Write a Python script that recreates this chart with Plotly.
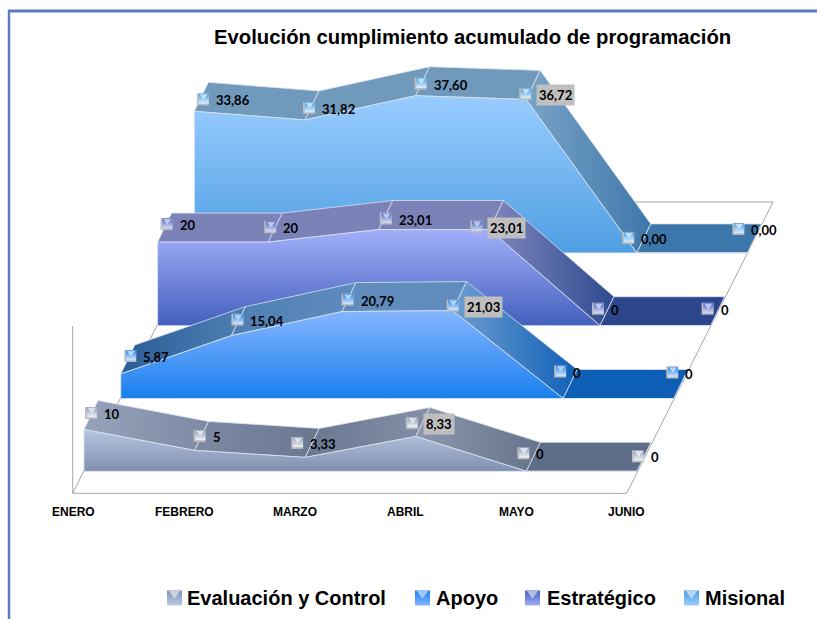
import plotly.graph_objects as go

# ---- data ----
months = ["ENERO", "FEBRERO", "MARZO", "ABRIL", "MAYO", "JUNIO"]
series_names = ["Misional", "Estratégico", "Apoyo", "Evaluación y Control"]
misional = [33.86, 31.82, 37.60, 36.72, 0.00, 0.00]
estrategico = [20, 20, 23.01, 23.01, 0, 0]
apoyo = [5.87, 15.04, 20.79, 21.03, 0, 0]
evaluacion = [10, 5, 3.33, 8.33, 0, 0]
misional_labels = ["33,86", "31,82", "37,60", "36,72", "0,00", "0,00"]
estrategico_labels = ["20", "20", "23,01", "23,01", "0", "0"]
apoyo_labels = ["5,87", "15,04", "20,79", "21,03", "0", "0"]
evaluacion_labels = ["10", "5", "3,33", "8,33", "0", "0"]
highlighted_month = 3
title_text = "Evolución cumplimiento acumulado de programación"
legend_order = ["Evaluación y Control", "Apoyo", "Estratégico", "Misional"]

# ---- oblique projection of the 3D chart onto the page ----
X0, Y0 = 84.0, 471.3        # first series, first month, value 0
DX = 110.6                  # per month
SY = 4.18                   # per value unit
SER_DX, SER_DY = 36.8, -72.8  # per series step in depth
RIB_DX, RIB_DY = 14.0, -29.0  # ribbon thickness
FLOOR = dict(fl=(72.7, 493.3), fr=(626.7, 493.3), br=(773, 202), bl=(219, 202))


def proj(month, value, depth, back=0.0):
    return (X0 + DX * month + SER_DX * depth + RIB_DX * back,
            Y0 - SY * value + SER_DY * depth + RIB_DY * back)


styles = {
    "Misional": dict(values=misional, labels=misional_labels, depth=3,
                     face=("#99CCFF", "#4F9FE3"), face_span=(96, 253),
                     ribbon=[("#7099BC", "#7099BC"), ("#7099BC", "#7099BC"), ("#7099BC", "#7099BC"),
                             ("#7AA3C6", "#3E78AB"), ("#3B77AA", "#3B77AA")],
                     icon=("#DDF0FF", "#3F9BE0"),
                     off=[(8.5, -12), (4, -12), (5, -12), (-1, -5.5), (-8.5, -15), (-9, -24)]),
    "Estratégico": dict(values=estrategico, labels=estrategico_labels, depth=2,
                        face=("#A2B0FA", "#4460BE"), face_span=(229, 325),
                        ribbon=[("#7B82B8", "#7B82B8"), ("#7B82B8", "#7B82B8"), ("#7B82B8", "#7B82B8"),
                                ("#8087BC", "#2E4A90"), ("#2C468C", "#2C468C")],
                        icon=("#D6DDFA", "#4460BE"),
                        off=[(9, -18), (2, -15), (7, -11), (-13, -3), (-2, -17), (-3, -17)]),
    "Apoyo": dict(values=apoyo, labels=apoyo_labels, depth=1,
                  face=("#86B6FF", "#1A80EE"), face_span=(310, 398),
                  ribbon=[("#2B5D98", "#4F7FB3"), ("#4F7FB3", "#5F8BBD"), ("#5F8BBD", "#5F8BBD"),
                          ("#6E9ED0", "#1060B8"), ("#0D5FB5", "#0D5FB5")],
                  icon=("#D5E8FF", "#1F80E8"),
                  off=[(9.5, -18), (6, -16), (5.5, -12), (0, -5), (-3, -27), (-1.5, -26)]),
    "Evaluación y Control": dict(values=evaluacion, labels=evaluacion_labels, depth=0,
                                 face=("#BCCBE6", "#8090B0"), face_span=(425, 471),
                                 ribbon=[("#97A3BB", "#7E8AA3"), ("#7E8AA3", "#6A7790"), ("#6A7790", "#858FA8"),
                                         ("#8D97AE", "#66738C"), ("#5E6D87", "#5E6D87")],
                                 icon=("#F0F3F8", "#8B9BB8"),
                                 off=[(7, -16.5), (5, -14.5), (-8, -14.5), (-4, -13.5), (-3, -18), (1, -15)]),
}

EDGE = "#D9E3F0"
GRID = "#A6A6A6"
fig = go.Figure()
annotations = []


def line(pts, color=GRID, width=1):
    fig.add_trace(go.Scatter(x=[p[0] for p in pts], y=[p[1] for p in pts], mode="lines",
                             line=dict(color=color, width=width), hoverinfo="skip", showlegend=False))


def icon(x, y, colors, size):
    fig.add_trace(go.Scatter(x=[x], y=[y], mode="markers", hoverinfo="skip", showlegend=False,
                             marker=dict(symbol="square", size=size, color="#BDBDBD", line=dict(width=0))))
    fig.add_trace(go.Scatter(x=[x + 0.7], y=[y - 0.7], mode="markers", hoverinfo="skip", showlegend=False,
                             marker=dict(symbol="square", size=size - 2, line=dict(width=0), color=colors[1],
                                         gradient=dict(type="vertical", color=colors[0]))))
    fig.add_trace(go.Scatter(x=[x + 0.7], y=[y - size * 0.28], mode="markers", hoverinfo="skip", showlegend=False,
                             marker=dict(symbol="triangle-down", size=size * 0.62, color=colors[0], opacity=0.75,
                                         line=dict(width=0))))


# floor and wall frame
f = FLOOR
line([(f["fl"][0], 326), f["fl"], f["fr"], f["br"], f["bl"], f["fl"]])

# series, back to front
for name in series_names:
    s = styles[name]
    vals, d = s["values"], s["depth"]
    n = len(vals)
    for i in range(n - 1):
        pts = [proj(i, vals[i], d), proj(i + 1, vals[i + 1], d),
               proj(i + 1, vals[i + 1], d, 1), proj(i, vals[i], d, 1), proj(i, vals[i], d)]
        xs, ys = zip(*pts)
        c0, c1 = s["ribbon"][i]
        fig.add_trace(go.Scatter(
            x=xs, y=ys, mode="lines", fill="toself", line=dict(color=EDGE, width=0.8),
            fillgradient=dict(type="horizontal", colorscale=[[0, c0], [1, c1]],
                              start=min(xs), stop=max(xs)),
            hoverinfo="skip", showlegend=False))
    front = [proj(i, vals[i], d) for i in range(n)]
    base = [proj(n - 1, 0, d), proj(0, 0, d)]
    poly = front + base + [front[0]]
    xs, ys = zip(*poly)
    fig.add_trace(go.Scatter(
        x=xs, y=ys, mode="lines", fill="toself", line=dict(color=EDGE, width=0.8),
        fillgradient=dict(type="vertical", colorscale=[[0, s["face"][0]], [1, s["face"][1]]],
                          start=s["face_span"][0], stop=s["face_span"][1]),
        hoverinfo="skip", showlegend=False))

# data labels with their legend-key icons
for name in series_names[::-1]:
    s = styles[name]
    for i, (v, lab) in enumerate(zip(s["values"], s["labels"])):
        px, py = proj(i, v, s["depth"])
        mx, my = px + s["off"][i][0], py + s["off"][i][1]
        icon(mx, my, s["icon"], 12)
        ann = dict(x=mx + 11, y=my + 1, xref="x", yref="y", text=f"<b>{lab}</b>", showarrow=False,
                   xanchor="left", yanchor="middle",
                   font=dict(family="Lato", size=13, color="#000000"))
        if i == highlighted_month:
            ann.update(bgcolor="#BFBFBF", borderpad=2)
        annotations.append(ann)

# month tick labels
tick_x = [73.5, 184, 295, 405, 516, 626.5]
for m, tx in zip(months, tick_x):
    annotations.append(dict(x=tx, y=511.5, xref="x", yref="y", text=f"<b>{m}</b>", showarrow=False,
                            font=dict(family="Liberation Sans", size=12, color="#000000")))

# title
annotations.append(dict(x=472.5, y=36.5, xref="x", yref="y", text=f"<b>{title_text}</b>", showarrow=False,
                        font=dict(family="Liberation Sans", size=20.3, color="#000000")))

# legend
legend_pos = [(174.5, 185), (422.5, 433.5), (532.5, 545), (691.5, 703)]
for nm, (ix, tx) in zip(legend_order, legend_pos):
    fig.add_trace(go.Scatter(x=[ix], y=[598], mode="markers", hoverinfo="skip", showlegend=False,
                             marker=dict(symbol="square", size=15, color=styles[nm]["face"][1], line=dict(width=0),
                                         gradient=dict(type="vertical", color=styles[nm]["face"][0]))))
    fig.add_trace(go.Scatter(x=[ix], y=[593.5], mode="markers", hoverinfo="skip", showlegend=False,
                             marker=dict(symbol="triangle-down", size=10, color="#FFFFFF", opacity=0.55,
                                         line=dict(width=0))))
    annotations.append(dict(x=tx, y=597.5, xref="x", yref="y", text=f"<b>{nm}</b>", showarrow=False,
                            xanchor="left", yanchor="middle",
                            font=dict(family="Liberation Sans", size=20, color="#000000")))

border = [
    dict(type="line", xref="x", yref="y", x0=8, x1=817, y0=11, y1=11, line=dict(color="#5B7CBE", width=3)),
    dict(type="line", xref="x", yref="y", x0=9, x1=9, y0=10, y1=619, line=dict(color="#5B7CBE", width=2.5)),
]

fig.update_layout(
    width=817, height=619, autosize=False, margin=dict(l=0, r=0, t=0, b=0),
    paper_bgcolor="#FFFFFF", plot_bgcolor="#FFFFFF", showlegend=False,
    xaxis=dict(range=[0, 817], visible=False, fixedrange=True),
    yaxis=dict(range=[619, 0], visible=False, fixedrange=True),
    annotations=annotations, shapes=border,
)
fig.write_html("out.html", config=dict(displayModeBar=False),
               post_script="document.body.style.margin='0';")
